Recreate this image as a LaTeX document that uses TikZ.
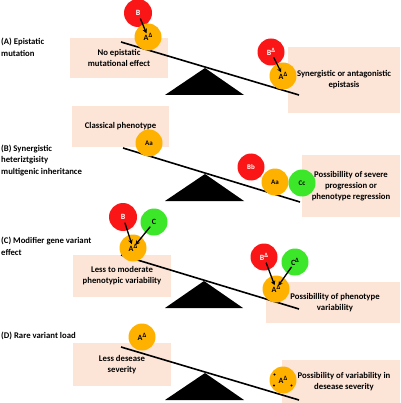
\documentclass[tikz,border=0pt]{standalone}
\usepackage{fontspec}
\setmainfont{Carlito}
\usetikzlibrary{arrows.meta}
\definecolor{peach}{RGB}{252,228,214}
\definecolor{myred}{RGB}{250,22,22}
\definecolor{myorange}{RGB}{255,177,0}
\definecolor{mygreen}{RGB}{60,230,40}
\newcommand{\dl}{\raisebox{2.5pt}{\fontsize{6.5}{7}\selectfont Δ}}
\begin{document}
\begin{tikzpicture}[x=1pt,y=-1pt,
 box/.style={rectangle, fill=peach, inner sep=0pt, align=center, font=\bfseries\fontsize{8.7}{11}\selectfont},
 lab/.style={anchor=west, align=left, inner sep=0pt, font=\bfseries\fontsize{8.7}{11.8}\selectfont},
 ball/.style={circle, minimum size=27pt, inner sep=0pt, font=\bfseries\fontsize{8}{9}\selectfont},
 redball/.style={ball, fill=myred, text=white},
 orball/.style={ball, fill=myorange},
 grball/.style={ball, fill=mygreen},
 beam/.style={line width=1.6pt},
 fulcrum/.style={fill=black},
 arr/.style={-{Stealth[length=4.5pt,width=4.5pt]}, line width=1.3pt, shorten <=6pt, shorten >=4pt},
 dot/.style={circle, fill=black, inner sep=0pt, minimum size=2.2pt}
]
\useasboundingbox (0,0) rectangle (400,403);

% ---------- labels ----------
\node[lab] (la) at (1,47) {(A) Epistatic\\mutation};
\node[lab] (lb) at (1,160.5) {(B) Synergistic\\heteriztgisity\\multigenic inheritance};
\node[lab] (lc) at (1,246) {(C) Modifier gene variant\\effect};
\node[lab] (ld) at (1,336) {(D) Rare variant load};

% ---------- boxes ----------
\node[box, minimum width=98pt, minimum height=40pt] (boxAL) at (119,58) {No epistatic\\mutational effect};
\node[box, minimum width=112pt, minimum height=66pt] (boxAR) at (344,80) {Synergistic or antagonistic\\epistasis};
\node[box, minimum width=97pt, minimum height=41pt] (boxBL) at (120.5,126.5) {Classical phenotype};
\node[box, minimum width=98pt, minimum height=62pt] (boxBR) at (351,186) {Possibillity of severe\\progression or\\phenotype regression};
\node[box, minimum width=134pt, minimum height=41pt] (boxCR) at (333,302.5) {\hspace*{4pt}Possibillity of phenotype\\\hspace*{4pt}variability};
\node[box, minimum width=98pt, minimum height=42pt] (boxCL) at (122,276) {Less to moderate\\phenotypic variability};
\node[box, minimum width=98pt, minimum height=43pt] (boxDL) at (122,364.5) {Less desease\\severity};
\node[box, minimum width=118pt, minimum height=43pt] (boxDR) at (341,381.5) {\hspace*{6pt}Possibility of variability in\\\hspace*{6pt}desease severity};

% ---------- beams ----------
\coordinate (a1) at (121,42);  \coordinate (a2) at (299,95);
\coordinate (b1) at (123,148); \coordinate (b2) at (300,202);
\coordinate (c1) at (121,255); \coordinate (c2) at (299,309);
\coordinate (d1) at (121,347); \coordinate (d2) at (299,400);
\draw[beam] (a1) -- (a2);
\draw[beam] (b1) -- (b2);
\draw[beam] (c1) -- (c2);
\draw[beam] (d1) -- (d2);

% ---------- fulcrums ----------
\coordinate (fa) at (205,68);  \coordinate (fa1) at (165,95);  \coordinate (fa2) at (244,95);
\coordinate (fb) at (205,174); \coordinate (fb1) at (165,201); \coordinate (fb2) at (244,201);
\coordinate (fc) at (204,281); \coordinate (fc1) at (165,308); \coordinate (fc2) at (243,308);
\coordinate (fd) at (205,373); \coordinate (fd1) at (165,400); \coordinate (fd2) at (244,400);
\fill[fulcrum] (fa) -- (fa1) -- (fa2) -- cycle;
\fill[fulcrum] (fb) -- (fb1) -- (fb2) -- cycle;
\fill[fulcrum] (fc) -- (fc1) -- (fc2) -- cycle;
\fill[fulcrum] (fd) -- (fd1) -- (fd2) -- cycle;

% ---------- panel A balls ----------
\node[redball, minimum size=28pt] (B1) at (138,13) {B};
\node[orball] (A1) at (148,37) {A\dl};
\draw[arr] (B1.center) -- (A1.center);
\node[redball] (B2) at (271,52) {B\dl};
\node[orball] (A2) at (283,76) {A\dl};
\draw[arr] (B2.center) -- (A2.center);

% ---------- panel B balls ----------
\node[orball, font=\bfseries\fontsize{7}{8}\selectfont] (Aa1) at (149,143) {Aa};
\node[redball, font=\bfseries\fontsize{7}{8}\selectfont] (Bb) at (251,167) {Bb};
\node[orball, font=\bfseries\fontsize{7}{8}\selectfont] (Aa2) at (275,182) {Aa};
\node[grball, font=\bfseries\fontsize{7}{8}\selectfont] (Cc) at (302,183) {Cc};

% ---------- panel C balls ----------
\node[redball, minimum size=28pt] (B3) at (123,217) {B};
\node[grball] (C3) at (154,222) {C};
\node[orball] (A3) at (133,248) {A\dl};
\draw[arr] (B3.center) -- (A3.center);
\draw[arr] (C3.center) -- (A3.center);
\node[redball] (B4) at (264,257) {B\dl};
\node[grball] (C4) at (295,262) {C\dl};
\node[orball] (A4) at (276,289) {A\dl};
\draw[arr] (B4.center) -- (A4.center);
\draw[arr] (C4.center) -- (A4.center);

% ---------- panel D balls ----------
\node[orball] (A5) at (142,337) {A\dl};
\node[orball] (A6) at (283,380) {A\dl};
\node[dot] (s1) at (274.5,374.5) {};
\node[dot] (s2) at (274,385.5) {};
\node[dot] (s3) at (291.5,385.5) {};
\end{tikzpicture}
\end{document}
